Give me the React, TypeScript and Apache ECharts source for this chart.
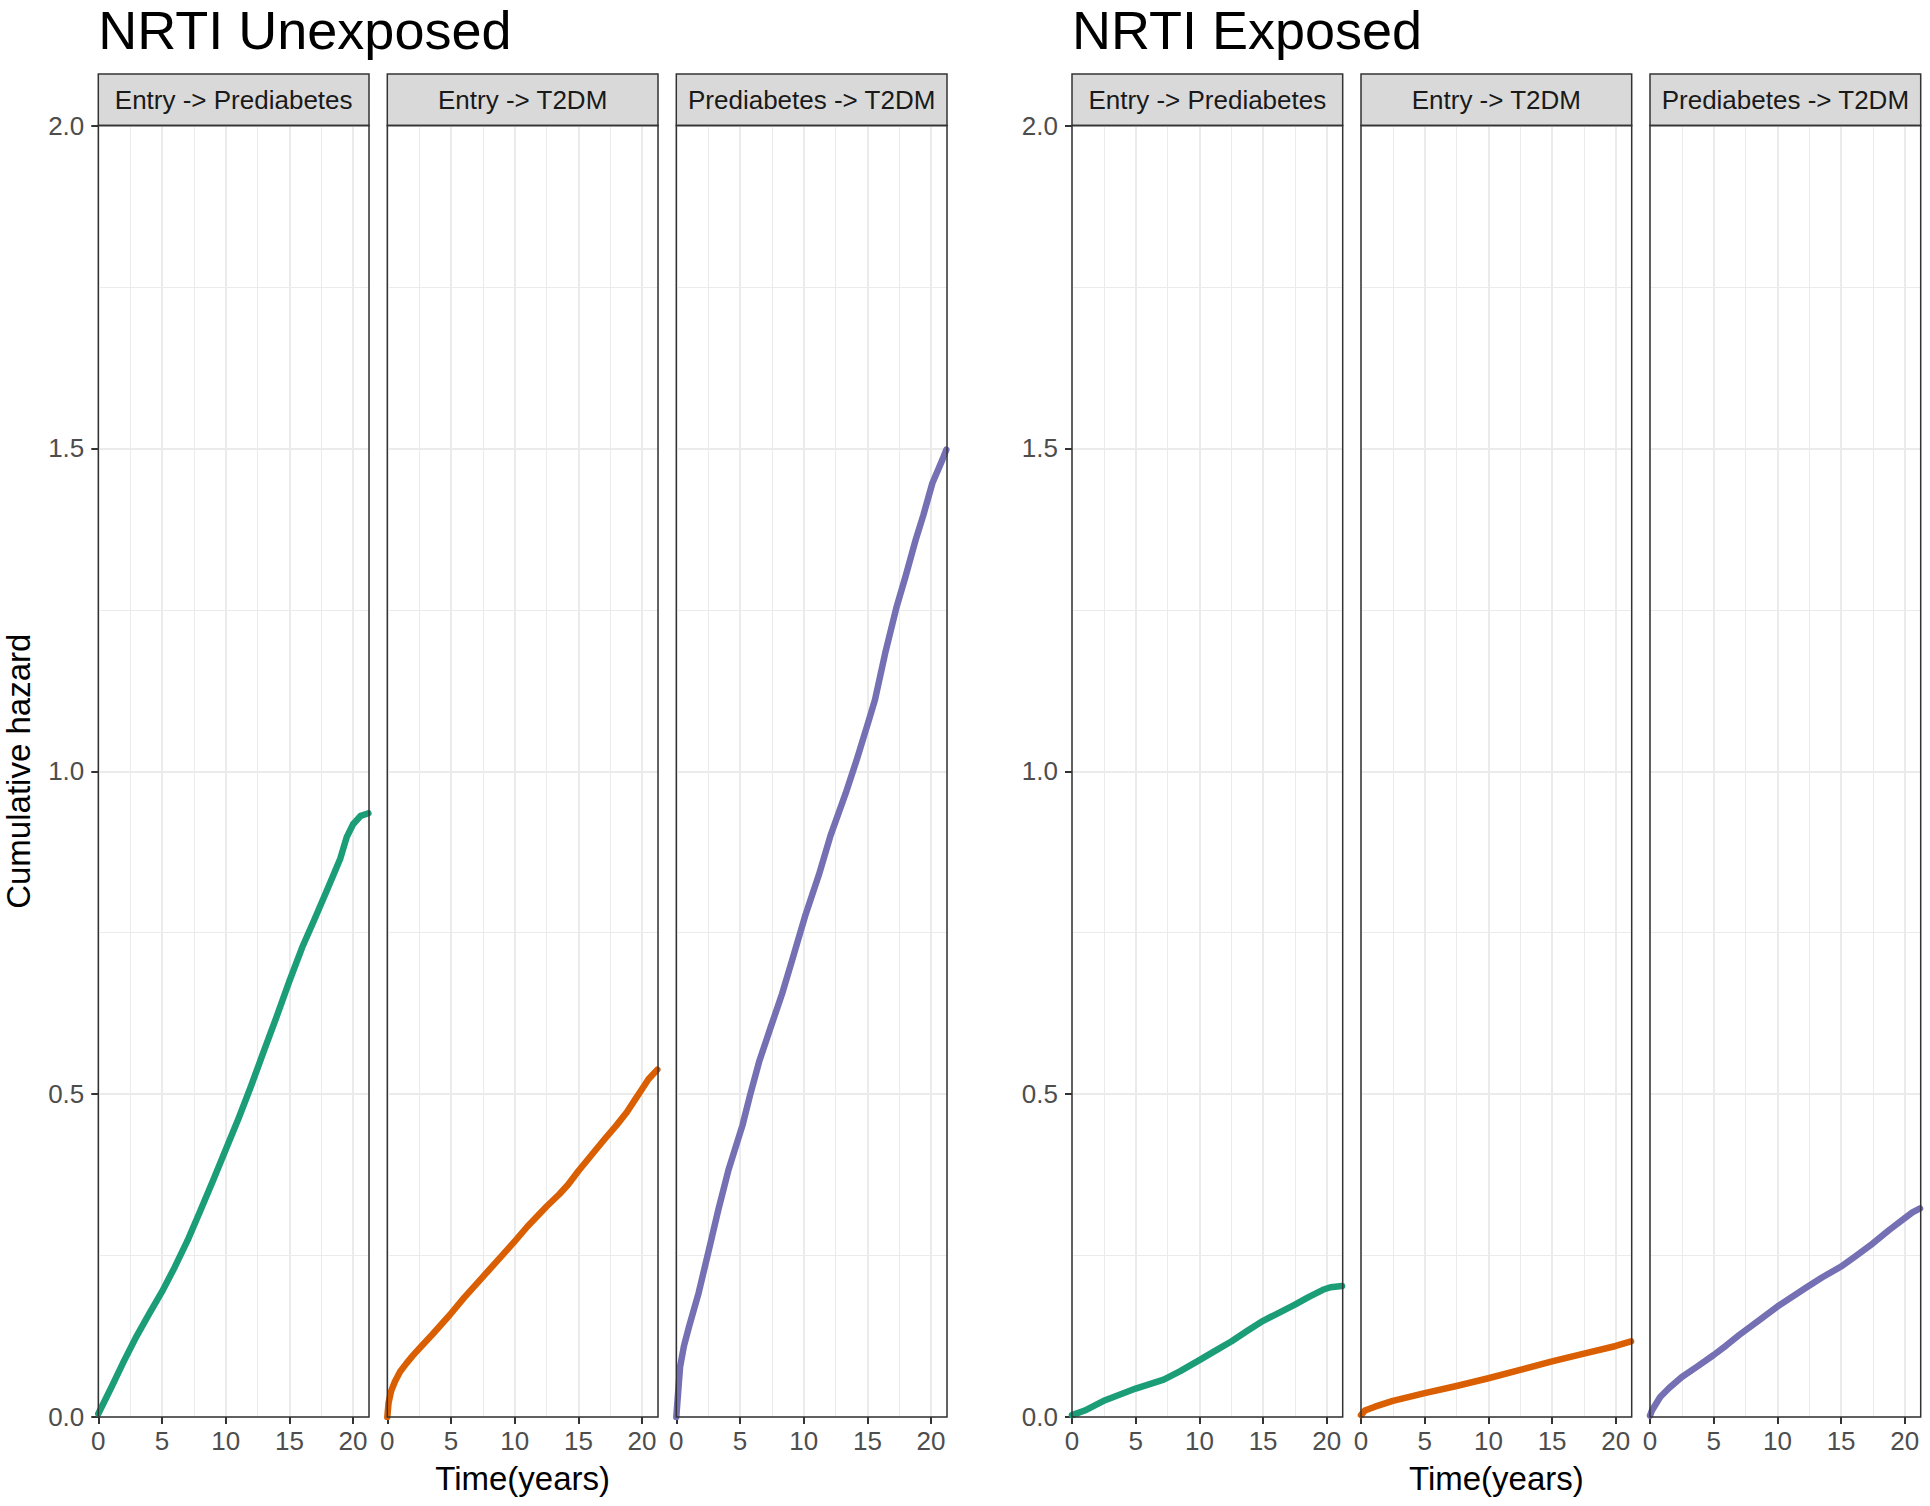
import React, { useEffect, useRef } from "react";
import * as echarts from "echarts";

// ---------------- data ----------------
const groupTitles = ["NRTI Unexposed", "NRTI Exposed"];
const transitions = ["Entry -> Prediabetes", "Entry -> T2DM", "Prediabetes -> T2DM"];
const transitionColors = ["#1B9E77", "#D95F02", "#7570B3"];
const xTickValues = [0, 5, 10, 15, 20];
const yTickValues = [0, 0.5, 1, 1.5, 2];
const xAxisTitle = "Time(years)";
const yAxisTitle = "Cumulative hazard";

// NRTI Unexposed
const unexposedEntryPre: [number, number][] = [
  [0, 0.005], [1, 0.045], [2, 0.086], [3, 0.125], [4, 0.16], [5, 0.194], [6, 0.232],
  [7, 0.273], [8, 0.319], [9, 0.366], [10, 0.414], [11, 0.462], [12, 0.513],
  [13, 0.567], [14, 0.62], [15, 0.675], [16, 0.727], [17, 0.772], [18, 0.818],
  [19, 0.865], [19.5, 0.898], [20, 0.918], [20.6, 0.931], [21.2, 0.935],
];
const unexposedEntryT2dm: [number, number][] = [
  [0, 0], [0.1, 0.022], [0.3, 0.04], [0.6, 0.055], [1, 0.07], [1.5, 0.083],
  [2, 0.095], [2.6, 0.108], [3.5, 0.127], [4.9, 0.158], [6, 0.184], [7.5, 0.217],
  [9, 0.25], [10, 0.272], [11, 0.295], [12.5, 0.326], [13.5, 0.345], [14.2, 0.36],
  [15, 0.381], [16, 0.405], [17, 0.429], [18, 0.452], [18.8, 0.472], [19.5, 0.493],
  [20, 0.508], [20.5, 0.523], [21.2, 0.538],
];
const unexposedPreT2dm: [number, number][] = [
  [0, 0], [0.15, 0.04], [0.3, 0.078], [0.6, 0.11], [1, 0.14], [1.75, 0.192],
  [2.5, 0.254], [3.3, 0.321], [4.1, 0.383], [5.2, 0.452], [5.8, 0.499], [6.5, 0.55],
  [7.4, 0.603], [8.3, 0.655], [9.1, 0.708], [10.1, 0.775], [11.2, 0.84],
  [12.1, 0.9], [13.3, 0.966], [14.2, 1.02], [15.1, 1.078], [15.6, 1.111],
  [16.4, 1.183], [17.3, 1.255], [18, 1.302], [18.8, 1.359], [19.4, 1.397],
  [20.1, 1.446], [20.9, 1.483], [21.2, 1.498],
];

// NRTI Exposed
const exposedEntryPre: [number, number][] = [
  [0, 0.003], [1, 0.01], [2.6, 0.026], [5, 0.044], [7.2, 0.058], [8.5, 0.071],
  [10, 0.088], [11.2, 0.102], [12.5, 0.117], [13.8, 0.134], [15, 0.149],
  [16.2, 0.161], [17.5, 0.174], [18.6, 0.186], [19.7, 0.197], [20.3, 0.201],
  [21.2, 0.203],
];
const exposedEntryT2dm: [number, number][] = [
  [0, 0.003], [0.3, 0.01], [1.1, 0.016], [2.5, 0.025], [5, 0.037], [7.5, 0.048],
  [10, 0.06], [12.5, 0.073], [15, 0.086], [17.5, 0.098], [20, 0.11], [21.2, 0.117],
];
const exposedPreT2dm: [number, number][] = [
  [0, 0.002], [0.15, 0.01], [0.8, 0.031], [1.5, 0.045], [2.5, 0.062], [3.7, 0.078],
  [5, 0.096], [6, 0.111], [7, 0.127], [8.5, 0.149], [10, 0.171], [12.3, 0.201],
  [13.5, 0.216], [15, 0.233], [16.2, 0.25], [17.5, 0.269], [18.8, 0.29],
  [20, 0.308], [20.6, 0.317], [21.2, 0.323],
];

const panelData = [
  unexposedEntryPre, unexposedEntryT2dm, unexposedPreT2dm,
  exposedEntryPre, exposedEntryT2dm, exposedPreT2dm,
];

// ---------------- layout ----------------
const W = 1930;
const H = 1506;
const FONT = '"Liberation Sans", Arial, Helvetica, sans-serif';
const panelLefts = [98.3, 387.3, 676.3, 1072, 1361, 1650];
const panelWidth = 270.7;
const panelTop = 125.5;
const panelBottom = 1417;
const stripTop = 74;
const X_MAX = 21.25;
const Y_MAX = 2;

export default function App() {
  const ref = useRef<HTMLDivElement | null>(null);

  useEffect(() => {
    document.body.style.margin = "0";
    if (!ref.current) return;
    const chart = echarts.init(ref.current, null, { renderer: "svg", width: W, height: H });

    const grids: any[] = [];
    const xAxes: any[] = [];
    const yAxes: any[] = [];
    const series: any[] = [];
    const graphics: any[] = [];

    panelData.forEach((data, i) => {
      const showY = i % 3 === 0;
      const tIdx = i % 3;
      grids.push({
        left: panelLefts[i],
        top: panelTop,
        width: panelWidth,
        height: panelBottom - panelTop,
        containLabel: false,
        outerBoundsMode: "none",
        show: false,
      });
      // major x axis
      xAxes.push({
        type: "value",
        gridIndex: i,
        min: 0,
        max: X_MAX,
        interval: 5,
        position: "bottom",
        axisLine: { show: false },
        axisTick: {
          show: true,
          length: 7,
          customValues: xTickValues,
          lineStyle: { color: "#333333", width: 2 },
        },
        axisLabel: {
          show: true,
          customValues: xTickValues,
          fontSize: 26,
          fontFamily: FONT,
          color: "#4D4D4D",
          margin: 11,
          formatter: (v: number) => String(v),
        },
        splitLine: { show: true, lineStyle: { color: "#EBEBEB", width: 2 } },
      });
      // minor x axis (grid lines only)
      xAxes.push({
        type: "value",
        gridIndex: i,
        min: 0,
        max: X_MAX,
        interval: 2.5,
        position: "top",
        axisLine: { show: false },
        axisTick: { show: false },
        axisLabel: { show: false },
        splitLine: { show: true, lineStyle: { color: "#EBEBEB", width: 1 } },
      });
      yAxes.push({
        type: "value",
        gridIndex: i,
        min: 0,
        max: Y_MAX,
        interval: 0.5,
        axisLine: { show: false },
        axisTick: {
          show: showY,
          length: 7,
          lineStyle: { color: "#333333", width: 2 },
        },
        axisLabel: {
          show: showY,
          fontSize: 26,
          fontFamily: FONT,
          color: "#4D4D4D",
          margin: 14,
          formatter: (v: number) => v.toFixed(1),
        },
        splitLine: { show: true, lineStyle: { color: "#EBEBEB", width: 2 } },
        minorTick: { show: false, splitNumber: 2 },
        minorSplitLine: { show: true, lineStyle: { color: "#EBEBEB", width: 1 } },
      });
      series.push({
        type: "line",
        name: transitions[tIdx],
        xAxisIndex: 2 * i,
        yAxisIndex: i,
        data,
        showSymbol: false,
        symbol: "none",
        smooth: false,
        clip: true,
        z: 5,
        lineStyle: { color: transitionColors[tIdx], width: 6.5, cap: "round", join: "round" },
        itemStyle: { color: transitionColors[tIdx] },
      });

      // strip
      graphics.push({
        type: "rect",
        silent: true,
        z: 50,
        shape: { x: panelLefts[i], y: stripTop, width: panelWidth, height: panelTop - stripTop },
        style: { fill: "#D9D9D9", stroke: "#333333", lineWidth: 1.5 },
      });
      graphics.push({
        type: "text",
        silent: true,
        z: 51,
        x: panelLefts[i] + panelWidth / 2,
        y: (stripTop + panelTop) / 2,
        style: {
          text: transitions[tIdx],
          font: `26px ${FONT}`,
          fill: "#1A1A1A",
          align: "center",
          verticalAlign: "middle",
        },
      });
      // panel border
      graphics.push({
        type: "rect",
        silent: true,
        z: 100,
        shape: { x: panelLefts[i], y: panelTop, width: panelWidth, height: panelBottom - panelTop },
        style: { fill: "none", stroke: "#333333", lineWidth: 1.5 },
      });
    });

    // group titles and x-axis titles
    [0, 1].forEach((g) => {
      graphics.push({
        type: "text",
        silent: true,
        z: 51,
        x: panelLefts[g * 3],
        y: 29.5,
        style: {
          text: groupTitles[g],
          font: `54px ${FONT}`,
          lineHeight: 54,
          fill: "#000000",
          align: "left",
          verticalAlign: "middle",
        },
      });
      graphics.push({
        type: "text",
        silent: true,
        z: 51,
        x: panelLefts[g * 3 + 1] + panelWidth / 2,
        y: 1478,
        style: {
          text: xAxisTitle,
          font: `33px ${FONT}`,
          fill: "#000000",
          align: "center",
          verticalAlign: "middle",
        },
      });
    });
    graphics.push({
      type: "text",
      silent: true,
      z: 51,
      x: 18.5,
      y: (panelTop + panelBottom) / 2,
      rotation: Math.PI / 2,
      style: {
        text: yAxisTitle,
        font: `33px ${FONT}`,
        fill: "#000000",
        align: "center",
        verticalAlign: "middle",
      },
    });

    chart.setOption({
      animation: false,
      backgroundColor: "#FFFFFF",
      textStyle: { fontFamily: FONT },
      grid: grids,
      xAxis: xAxes,
      yAxis: yAxes,
      series,
      graphic: { elements: graphics },
    });

    return () => {
      chart.dispose();
    };
  }, []);

  return <div ref={ref} style={{ width: W, height: H }} />;
}
